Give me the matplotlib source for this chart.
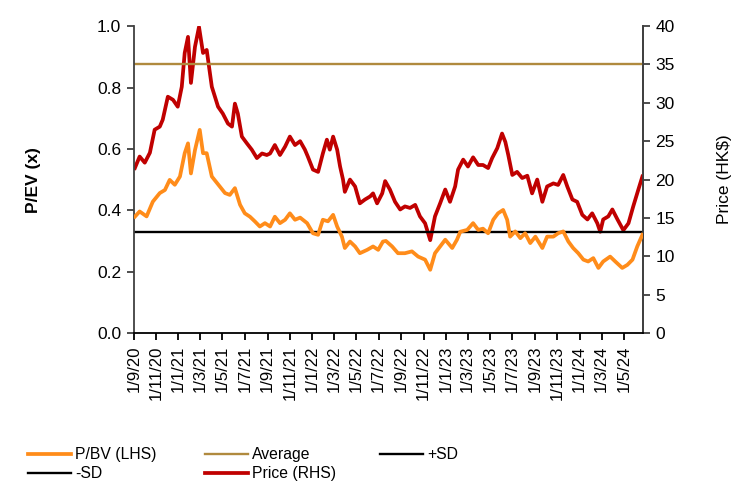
import matplotlib
matplotlib.use("Agg")
import matplotlib.pyplot as plt
import pandas as pd

plt.rcParams['font.family'] = ['Liberation Sans', 'DejaVu Sans']

# ---- data ----
price_dates = [
    "2020-09-04", "2020-09-17", "2020-10-01", "2020-10-15", "2020-10-28", "2020-11-11", "2020-11-19",
    "2020-12-03", "2020-12-17", "2020-12-30", "2021-01-10", "2021-01-18", "2021-01-27", "2021-02-04",
    "2021-02-15", "2021-02-26", "2021-03-09", "2021-03-19", "2021-04-02", "2021-04-19", "2021-05-02",
    "2021-05-16", "2021-05-27", "2021-06-04", "2021-06-12", "2021-06-23", "2021-07-07", "2021-07-20",
    "2021-08-03", "2021-08-17", "2021-08-30", "2021-09-08", "2021-09-21", "2021-10-05", "2021-10-19",
    "2021-11-01", "2021-11-15", "2021-11-29", "2021-12-12", "2021-12-20", "2022-01-03", "2022-01-17",
    "2022-01-30", "2022-02-10", "2022-02-18", "2022-02-27", "2022-03-10", "2022-03-18", "2022-03-26",
    "2022-03-31", "2022-04-14", "2022-04-28", "2022-05-11", "2022-05-25", "2022-06-08", "2022-06-16",
    "2022-06-27", "2022-07-11", "2022-07-19", "2022-08-01", "2022-08-15", "2022-08-29", "2022-09-11",
    "2022-09-25", "2022-10-09", "2022-10-22", "2022-11-05", "2022-11-19", "2022-12-02", "2022-12-16",
    "2022-12-30", "2023-01-12", "2023-01-26", "2023-02-03", "2023-02-17", "2023-03-02", "2023-03-16",
    "2023-03-30", "2023-04-12", "2023-04-26", "2023-05-07", "2023-05-21", "2023-06-03", "2023-06-12",
    "2023-06-20", "2023-07-01", "2023-07-14", "2023-07-28", "2023-08-11", "2023-08-24", "2023-09-07",
    "2023-09-21", "2023-10-04", "2023-10-21", "2023-11-03", "2023-11-17", "2023-11-28", "2023-12-12",
    "2023-12-25", "2024-01-08", "2024-01-22", "2024-02-04", "2024-02-18", "2024-02-26", "2024-03-05",
    "2024-03-19", "2024-03-30", "2024-04-13", "2024-04-29", "2024-05-13", "2024-05-26", "2024-06-09",
    "2024-06-20",
]
price_values = [
    21.5, 23.0, 22.2, 23.5, 26.5, 26.9, 27.8,
    30.8, 30.4, 29.5, 32.1, 36.5, 38.6, 32.6,
    37.3, 39.9, 36.5, 36.9, 32.1, 29.5, 28.6,
    27.3, 26.9, 29.9, 28.6, 25.6, 24.7, 23.9,
    22.8, 23.4, 23.2, 23.4, 24.5, 23.2, 24.3,
    25.6, 24.5, 25.0, 23.9, 23.0, 21.3, 21.0,
    23.4, 25.2, 23.9, 25.6, 23.9, 21.7, 20.0,
    18.4, 20.0, 19.1, 16.9, 17.4, 17.8, 18.2,
    16.9, 18.2, 19.8, 18.7, 17.1, 16.1, 16.5,
    16.3, 16.7, 15.2, 14.3, 12.1, 15.2, 16.9,
    18.7, 17.1, 19.1, 21.3, 22.6, 21.7, 22.9,
    21.9, 21.9, 21.5, 22.8, 24.1, 26.0, 24.9,
    23.2, 20.6, 21.0, 20.2, 20.5, 18.2, 20.0,
    17.1, 19.1, 19.5, 19.3, 20.6, 19.1, 17.4,
    17.1, 15.4, 14.8, 15.6, 14.3, 13.2, 14.8,
    15.2, 16.1, 14.8, 13.4, 14.3, 16.5, 18.7,
    20.4,
]

pbv_dates = [
    "2020-09-04", "2020-09-17", "2020-10-06", "2020-10-23", "2020-11-11", "2020-11-25", "2020-12-08",
    "2020-12-22", "2021-01-05", "2021-01-18", "2021-01-27", "2021-02-04", "2021-02-15", "2021-02-28",
    "2021-03-09", "2021-03-19", "2021-04-02", "2021-04-24", "2021-05-08", "2021-05-21", "2021-06-04",
    "2021-06-18", "2021-07-01", "2021-07-15", "2021-07-29", "2021-08-11", "2021-08-25", "2021-09-08",
    "2021-09-21", "2021-10-05", "2021-10-19", "2021-11-01", "2021-11-15", "2021-11-29", "2021-12-18",
    "2022-01-03", "2022-01-17", "2022-01-30", "2022-02-13", "2022-02-27", "2022-03-10", "2022-03-23",
    "2022-03-31", "2022-04-14", "2022-04-28", "2022-05-11", "2022-05-31", "2022-06-16", "2022-06-30",
    "2022-07-13", "2022-07-21", "2022-08-07", "2022-08-23", "2022-09-11", "2022-09-30", "2022-10-17",
    "2022-11-05", "2022-11-19", "2022-12-02", "2022-12-16", "2022-12-30", "2023-01-18", "2023-01-31",
    "2023-02-09", "2023-02-28", "2023-03-16", "2023-03-30", "2023-04-12", "2023-04-26", "2023-05-10",
    "2023-05-23", "2023-06-06", "2023-06-17", "2023-06-25", "2023-07-09", "2023-07-23", "2023-08-05",
    "2023-08-19", "2023-09-02", "2023-09-21", "2023-10-04", "2023-10-21", "2023-11-03", "2023-11-17",
    "2023-12-01", "2023-12-14", "2023-12-28", "2024-01-11", "2024-01-24", "2024-02-07", "2024-02-21",
    "2024-03-05", "2024-03-24", "2024-04-07", "2024-04-26", "2024-05-10", "2024-05-24", "2024-06-06",
    "2024-06-20",
]
pbv_values = [
    0.379, 0.396, 0.380, 0.428, 0.456, 0.466, 0.499,
    0.483, 0.510, 0.586, 0.618, 0.520, 0.596, 0.662,
    0.586, 0.586, 0.510, 0.477, 0.456, 0.450, 0.472,
    0.418, 0.390, 0.379, 0.363, 0.347, 0.358, 0.347,
    0.379, 0.358, 0.369, 0.390, 0.369, 0.376, 0.358,
    0.325, 0.320, 0.369, 0.364, 0.385, 0.347, 0.314,
    0.277, 0.298, 0.282, 0.260, 0.271, 0.282, 0.271,
    0.298, 0.300, 0.282, 0.260, 0.260, 0.266, 0.249,
    0.239, 0.206, 0.260, 0.282, 0.304, 0.277, 0.304,
    0.330, 0.336, 0.358, 0.336, 0.340, 0.325, 0.369,
    0.390, 0.401, 0.369, 0.314, 0.331, 0.309, 0.325,
    0.293, 0.314, 0.277, 0.314, 0.314, 0.325, 0.331,
    0.298, 0.277, 0.260, 0.239, 0.233, 0.244, 0.212,
    0.233, 0.249, 0.233, 0.212, 0.222, 0.239, 0.282,
    0.320,
]

average_value = 0.875
minus_sd_value = 0.33
plus_sd_value = 1.42

tick_dates = ["2020-09-01", "2020-11-01", "2021-01-01", "2021-03-01", "2021-05-01", "2021-07-01",
              "2021-09-01", "2021-11-01", "2022-01-01", "2022-03-01", "2022-05-01", "2022-07-01",
              "2022-09-01", "2022-11-01", "2023-01-01", "2023-03-01", "2023-05-01", "2023-07-01",
              "2023-09-01", "2023-11-01", "2024-01-01", "2024-03-01", "2024-05-01"]
tick_labels = ["1/9/20", "1/11/20", "1/1/21", "1/3/21", "1/5/21", "1/7/21", "1/9/21", "1/11/21",
               "1/1/22", "1/3/22", "1/5/22", "1/7/22", "1/9/22", "1/11/22", "1/1/23", "1/3/23",
               "1/5/23", "1/7/23", "1/9/23", "1/11/23", "1/1/24", "1/3/24", "1/5/24"]

x_start = "2020-09-01"
x_end = "2024-06-22"

# ---- plot ----
price_d = pd.to_datetime(price_dates)
pbv_d = pd.to_datetime(pbv_dates)
xs, xe = pd.Timestamp(x_start), pd.Timestamp(x_end)

fig = plt.figure(figsize=(7.35, 4.84), dpi=100)
ax = fig.add_axes([0.182, 0.312, 0.693, 0.634])
ax2 = ax.twinx()

c_pbv = "#FF8C1A"
c_avg = "#B08A3E"
c_sd = "#000000"
c_price = "#C00000"

l_pbv, = ax.plot(pbv_d, pbv_values, color=c_pbv, lw=2.7, label="P/BV (LHS)", zorder=3)
l_avg, = ax.plot([xs, xe], [average_value] * 2, color=c_avg, lw=1.7, label="Average", zorder=2)
l_psd, = ax.plot([xs, xe], [plus_sd_value] * 2, color=c_sd, lw=1.7, label="+SD", zorder=2)
l_msd, = ax.plot([xs, xe], [minus_sd_value] * 2, color=c_sd, lw=1.7, label="-SD", zorder=2)
l_price, = ax2.plot(price_d, price_values, color=c_price, lw=2.7, label="Price (RHS)", zorder=3)

ax.set_zorder(ax2.get_zorder() + 1)
ax.patch.set_visible(False)

ax.set_xlim(xs, xe)
ax.set_ylim(0, 1.0)
ax.set_yticks([0.0, 0.2, 0.4, 0.6, 0.8, 1.0])
ax.set_yticklabels(["0.0", "0.2", "0.4", "0.6", "0.8", "1.0"])
ax2.set_ylim(0, 40)
ax2.set_yticks(range(0, 41, 5))

ax.set_xticks(pd.to_datetime(tick_dates))
ax.set_xticklabels(tick_labels, rotation=90, fontsize=12)

for a in (ax, ax2):
    a.spines["top"].set_visible(False)
    a.spines["left"].set_color("#404040")
    a.spines["right"].set_color("#404040")
    a.spines["bottom"].set_color("#000000")
    for s in a.spines.values():
        s.set_linewidth(1.3)
ax2.spines["left"].set_visible(False)
ax2.spines["bottom"].set_visible(False)

ax.tick_params(axis="y", labelsize=12.5, direction="out", length=5, width=1.3, color="#404040", pad=4)
ax2.tick_params(axis="y", labelsize=12.5, direction="out", length=5, width=1.3, color="#404040", pad=4)
ax.tick_params(axis="x", direction="out", length=5, width=1.3, color="#000000", pad=4)

ax.set_ylabel("P/EV (x)", fontsize=12.5, fontweight="bold", labelpad=40)
ax2.set_ylabel("Price (HK$)", fontsize=12.5, labelpad=30)

# legend: three columns placed like the reference
legend_cols = [([l_pbv, l_msd], 0.038), ([l_avg, l_price], 0.279), ([l_psd], 0.517)]
for hs, x0 in legend_cols:
    leg = fig.legend(hs, [h.get_label() for h in hs], loc="upper left",
                     bbox_to_anchor=(x0, 0.076), frameon=False, fontsize=11.3,
                     handlelength=2.75, handletextpad=0.25, labelspacing=0.25,
                     borderaxespad=0, borderpad=0)

fig.savefig("out.png", dpi=100)
